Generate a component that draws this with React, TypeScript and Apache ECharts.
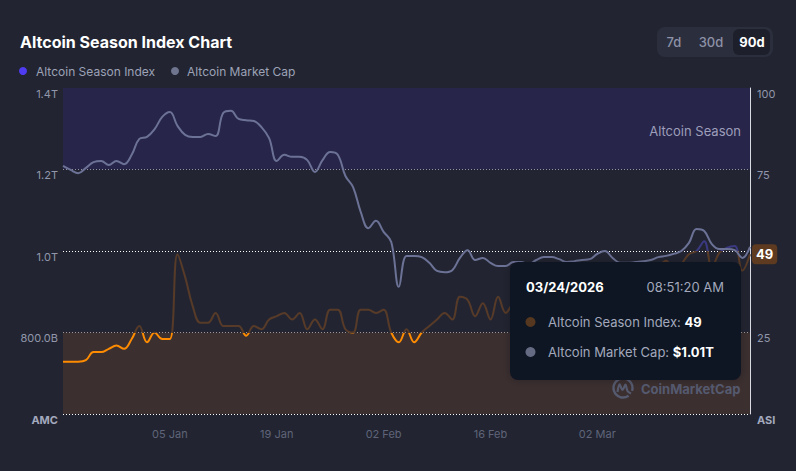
import React, { useEffect, useRef } from 'react';
import * as echarts from 'echarts';

// ---- data ----
const MONTHS = ['Jan', 'Feb', 'Mar', 'Apr', 'May', 'Jun', 'Jul', 'Aug', 'Sep', 'Oct', 'Nov', 'Dec'];
const startDay = Date.UTC(2025, 11, 22);
const dayCount = 91;
const dateLabels: string[] = Array.from({ length: dayCount }, (_, i) => {
  const d = new Date(startDay + i * 86400000);
  return String(d.getUTCDate()).padStart(2, '0') + ' ' + MONTHS[d.getUTCMonth()];
});
const xTickLabels = ['05 Jan', '19 Jan', '02 Feb', '16 Feb', '02 Mar'];

// Altcoin market cap, billions USD
const marketCapB = [
  1209, 1199, 1191, 1204, 1218, 1221, 1211, 1221, 1213, 1236,
  1275, 1280, 1299, 1329, 1341, 1307, 1285, 1280, 1280, 1287,
  1282, 1339, 1344, 1324, 1321, 1319, 1304, 1277, 1221, 1236,
  1231, 1231, 1223, 1194, 1223, 1243, 1236, 1184, 1157, 1096,
  1056, 1074, 1047, 1022, 912, 988, 988, 985, 971, 951,
  948, 953, 983, 1002, 978, 983, 971, 963, 963, 973,
  973, 968, 978, 985, 985, 980, 973, 975, 978, 980,
  993, 1000, 983, 971, 971, 973, 975, 978, 985, 988,
  993, 1000, 1020, 1054, 1049, 1017, 1005, 1005, 1002, 983,
  1010,
];

// Altcoin Season Index, 0-100
const seasonIndex = [
  16, 16, 16, 16.5, 19, 19, 20, 21, 20, 23,
  27, 22, 25, 23, 23, 49, 42, 33, 28, 28,
  31, 27, 27, 27, 24, 27, 26, 29, 30, 31,
  29, 31, 26, 29, 26, 32, 32, 26, 25, 32,
  32, 31, 32, 25, 22, 26, 22, 25, 27, 29,
  31, 29, 36, 35, 30, 34, 29, 36, 31, 34,
  35, 33, 37, 34, 36, 38, 35, 39, 37, 40,
  42, 38, 41, 44, 40, 43, 46, 42, 45, 47,
  44, 46, 49, 50, 53, 45, 49.5, 51, 51.5, 44,
  49,
];

const capTicks = { min: 600, max: 1400, interval: 200 };
const indexTicks = { min: 0, max: 100, interval: 25 };
const rangeButtons = ['7d', '30d', '90d'];
const tooltipDate = '03/24/2026';
const tooltipTime = '08:51:20 AM';

const FONT = 'Inter, "Noto Sans", sans-serif';
const BG = '#222531';

function formatCap(v: number): string {
  return v >= 1000 ? (v / 1000).toFixed(1) + 'T' : v.toFixed(1) + 'B';
}

export default function App() {
  const ref = useRef<HTMLDivElement>(null);

  useEffect(() => {
    if (!ref.current) return;
    document.body.style.margin = '0';
    document.body.style.background = BG;
    const chart = echarts.init(ref.current, undefined, { renderer: 'svg' });

    const lastIndex = seasonIndex[seasonIndex.length - 1];
    const lastCap = marketCapB[marketCapB.length - 1];

    const graphic: any[] = [
      // title
      {
        type: 'text', x: 20, y: 42, z: 10,
        style: { text: 'Altcoin Season Index Chart', fill: '#ffffff', fontSize: 16, fontWeight: 700, fontFamily: FONT, verticalAlign: 'middle' },
      },
      // legend
      { type: 'circle', shape: { cx: 23, cy: 71, r: 4 }, style: { fill: '#4f3cf2' }, z: 10 },
      {
        type: 'text', x: 36, y: 71, z: 10,
        style: { text: 'Altcoin Season Index', fill: '#9da2b7', fontSize: 12, fontFamily: FONT, verticalAlign: 'middle' },
      },
      { type: 'circle', shape: { cx: 175, cy: 71, r: 4 }, style: { fill: '#70758f' }, z: 10 },
      {
        type: 'text', x: 187, y: 71, z: 10,
        style: { text: 'Altcoin Market Cap', fill: '#9da2b7', fontSize: 12, fontFamily: FONT, verticalAlign: 'middle' },
      },
      // range buttons
      { type: 'rect', shape: { x: 657, y: 27, width: 116, height: 30, r: 8 }, style: { fill: '#2b2e3d' }, z: 10 },
      { type: 'rect', shape: { x: 733, y: 29, width: 37, height: 26, r: 6 }, style: { fill: '#1d1f2a' }, z: 11 },
      ...rangeButtons.map((t, i) => ({
        type: 'text', x: [674, 711, 752][i], y: 42, z: 12,
        style: {
          text: t, fill: i === 2 ? '#ffffff' : '#8d92a7', fontSize: 13, fontWeight: i === 2 ? 700 : 500,
          fontFamily: FONT, align: 'center', verticalAlign: 'middle',
        },
      })),
      // watermark
      {
        type: 'arc', z: 5,
        shape: { cx: 623, cy: 388, r: 9.5, startAngle: Math.PI * 0.3, endAngle: Math.PI * 2.1, clockwise: true },
        style: { stroke: '#555a6f', lineWidth: 2.4, fill: 'none' },
      },
      {
        type: 'polyline', z: 5,
        shape: { points: [[617.5, 392], [619.5, 384.5], [622.5, 390], [625.5, 384.5], [627.5, 391], [631, 393.5]], smooth: 0.35 },
        style: { stroke: '#555a6f', lineWidth: 2.2, fill: 'none' },
      },
      {
        type: 'text', x: 641, y: 389, z: 5,
        style: { text: 'CoinMarketCap', fill: '#555a6f', fontSize: 13, fontWeight: 700, fontFamily: FONT, verticalAlign: 'middle' },
      },
      // tooltip panel
      {
        type: 'rect', z: 20,
        shape: { x: 510, y: 262, width: 231, height: 118, r: 8 },
        style: { fill: '#0e1522', shadowBlur: 8, shadowColor: 'rgba(0,0,0,0.25)' },
      },
      {
        type: 'text', x: 526, y: 287, z: 21,
        style: { text: tooltipDate, fill: '#ffffff', fontSize: 13, fontWeight: 700, fontFamily: FONT, verticalAlign: 'middle' },
      },
      {
        type: 'text', x: 724, y: 287, z: 21,
        style: { text: tooltipTime, fill: '#a3a8bc', fontSize: 13, fontFamily: FONT, align: 'right', verticalAlign: 'middle' },
      },
      { type: 'circle', z: 21, shape: { cx: 530.5, cy: 322, r: 5 }, style: { fill: '#55381f' } },
      {
        type: 'text', x: 548, y: 322, z: 21,
        style: {
          text: '{l|Altcoin Season Index: }{v|' + lastIndex + '}', verticalAlign: 'middle',
          rich: {
            l: { fill: '#a3a8bc', fontSize: 13, fontFamily: FONT },
            v: { fill: '#ffffff', fontSize: 13, fontWeight: 700, fontFamily: FONT },
          },
        },
      },
      { type: 'circle', z: 21, shape: { cx: 530.5, cy: 352, r: 5 }, style: { fill: '#666b84' } },
      {
        type: 'text', x: 548, y: 352, z: 21,
        style: {
          text: '{l|Altcoin Market Cap: }{v|$' + (lastCap / 1000).toFixed(2) + 'T}', verticalAlign: 'middle',
          rich: {
            l: { fill: '#a3a8bc', fontSize: 13, fontFamily: FONT },
            v: { fill: '#ffffff', fontSize: 13, fontWeight: 700, fontFamily: FONT },
          },
        },
      },
    ];

    const option: any = {
      animation: false,
      backgroundColor: BG,
      textStyle: { fontFamily: FONT },
      grid: { left: 63, right: 46, top: 88, bottom: 57, containLabel: false },
      xAxis: {
        type: 'category',
        data: dateLabels,
        boundaryGap: false,
        axisLine: { show: false },
        axisTick: { show: false },
        splitLine: { show: false },
        axisLabel: {
          interval: (_i: number, v: string) => xTickLabels.includes(v),
          color: '#5f6479', fontSize: 11, margin: 14, fontFamily: FONT,
        },
      },
      yAxis: [
        {
          type: 'value', position: 'left', ...capTicks,
          axisLine: { show: false }, axisTick: { show: false }, splitLine: { show: false },
          axisLabel: {
            formatter: (v: number) => (v === capTicks.min ? '{b|AMC}' : formatCap(v)),
            color: '#9196ab', fontSize: 11, margin: 5, verticalAlign: 'top', fontFamily: FONT,
            rich: { b: { fontWeight: 700, color: '#a4a9be', fontSize: 11, fontFamily: FONT } },
          },
        },
        {
          type: 'value', position: 'right', ...indexTicks,
          axisLine: { show: true, lineStyle: { color: '#d9dae2', width: 1 } },
          axisTick: { show: false },
          splitLine: { show: true, lineStyle: { type: [1, 2], color: '#ffffff', width: 1 } },
          axisLabel: {
            formatter: (v: number) => (v === indexTicks.min ? '{b|ASI}' : String(v)),
            color: '#9196ab', fontSize: 11, margin: 7, verticalAlign: 'top', fontFamily: FONT,
            rich: { b: { fontWeight: 700, color: '#a4a9be', fontSize: 11, fontFamily: FONT } },
          },
        },
      ],
      visualMap: {
        show: false,
        type: 'piecewise',
        seriesIndex: 0,
        dimension: 1,
        pieces: [
          { lt: 25, color: '#ff8c00' },
          { gte: 25, lt: 50, color: '#573a27' },
          { gte: 50, lt: 75, color: '#3b3982' },
          { gte: 75, color: '#4f3cf2' },
        ],
      },
      series: [
        {
          name: 'Altcoin Season Index',
          type: 'line',
          yAxisIndex: 1,
          data: seasonIndex,
          smooth: 0.4,
          showSymbol: false,
          lineStyle: { width: 2 },
          z: 2,
          endLabel: {
            show: true,
            formatter: (p: any) => String(p.value),
            color: '#ffffff', fontWeight: 700, fontSize: 13, fontFamily: FONT,
            backgroundColor: '#5d3a20', padding: [4, 4, 3, 4], borderRadius: 4, distance: 2,
          },
          markArea: {
            silent: true,
            data: [
              [
                {
                  yAxis: 75,
                  itemStyle: { color: '#272549' },
                  label: { show: true, position: 'insideRight', color: '#9d9ebb', fontSize: 13, fontFamily: FONT, offset: [-4, 2] },
                  name: 'Altcoin Season',
                },
                { yAxis: 100 },
              ],
              [
                { yAxis: 0, itemStyle: { color: '#3b2f30' }, label: { show: false } },
                { yAxis: 25 },
              ],
            ],
          },
        },
        {
          name: 'Altcoin Market Cap',
          type: 'line',
          yAxisIndex: 0,
          data: marketCapB,
          smooth: 0.4,
          showSymbol: false,
          lineStyle: { width: 2, color: '#6c7296' },
          itemStyle: { color: '#6c7296' },
          z: 3,
        },
      ],
      graphic,
    };

    chart.setOption(option);
    return () => chart.dispose();
  }, []);

  return (
    <div
      ref={ref}
      style={{ position: 'fixed', left: 0, top: 0, width: 796, height: 471, background: BG }}
    />
  );
}
